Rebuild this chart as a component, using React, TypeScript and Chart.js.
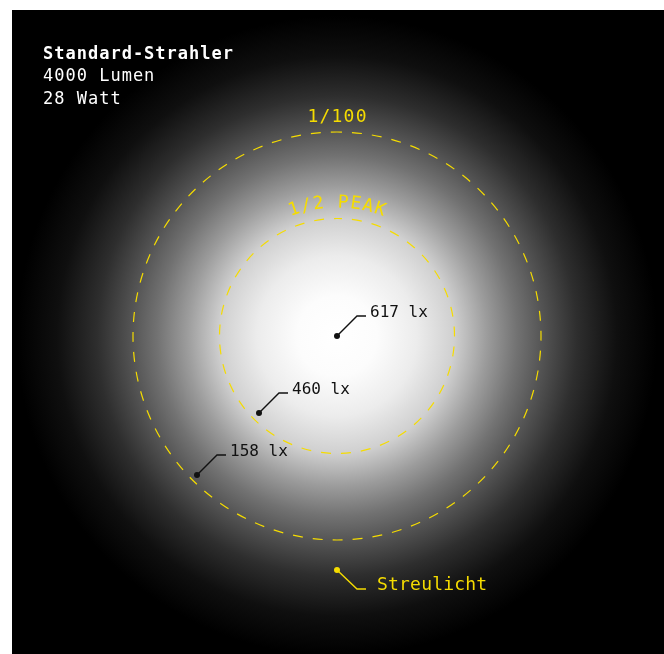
import React, { useEffect, useRef } from "react";
import { Chart, registerables } from "chart.js";

Chart.register(...registerables);

// ---- data (distances in metres from the lamp axis) ----
const headerLines = ["Standard-Strahler", "4000 Lumen", "28 Watt"];
const measureLabels = ["617 lx", "460 lx", "158 lx"];
const measureX = [0, -0.78, -1.4];
const measureY = [0, -0.77, -1.39];
const strayLabels = ["Streulicht"];
const strayX = [0];
const strayY = [-2.34];
const ringLabels = ["1/2 PEAK", "1/100"];
const ringRadii = [1.175, 2.04];
// brightness profile of the light cone: radius (m) -> grey level
const glowRadius = [0, 0.4, 0.8, 1.17, 1.5, 1.8, 2.04, 2.4, 2.8, 3.2];
const glowLevel = [255, 252, 236, 208, 156, 114, 86, 46, 15, 0];

const X_MIN = -3.25;
const X_MAX = 3.27;
const Y_MIN = -3.18;
const Y_MAX = 3.26;

const YELLOW = "#f5dc00";
const INK = "#111111";
const FONT = "'DejaVu Sans Mono', monospace";

const scenePlugin = {
  id: "scene",
  beforeDatasetsDraw(chart: any) {
    const { ctx, width, height } = chart;
    const xs = chart.scales.x;
    const ys = chart.scales.y;
    const cx = xs.getPixelForValue(0);
    const cy = ys.getPixelForValue(0);
    const unit = xs.getPixelForValue(1) - cx;
    ctx.save();
    ctx.fillStyle = "#000";
    ctx.fillRect(0, 0, width, height);
    const maxR = glowRadius[glowRadius.length - 1] * unit;
    const g = ctx.createRadialGradient(cx, cy, 0, cx, cy, maxR);
    glowRadius.forEach((r, i) => {
      const v = glowLevel[i];
      g.addColorStop((r * unit) / maxR, `rgb(${v},${v},${v})`);
    });
    ctx.fillStyle = g;
    ctx.fillRect(0, 0, width, height);

    // dashed rings
    ctx.strokeStyle = YELLOW;
    ctx.lineWidth = 1.2;
    ctx.setLineDash([10, 10]);
    ctx.lineDashOffset = 5;
    ringRadii.forEach((r) => {
      ctx.beginPath();
      ctx.arc(cx, cy, r * unit, -Math.PI / 2, Math.PI * 1.5);
      ctx.stroke();
    });
    ctx.setLineDash([]);

    // ring labels
    ctx.fillStyle = YELLOW;
    ctx.font = `18px ${FONT}`;
    // inner ring label, curved
    {
      const text = ringLabels[0];
      const R = ringRadii[0] * unit + 11;
      const sp = 1.2;
      const widths = Array.from(text).map((c) => ctx.measureText(c).width);
      const total = widths.reduce((a, b) => a + b, 0) + sp * (widths.length - 1);
      let off = 0;
      const start = -Math.PI / 2 - total / (2 * R);
      ctx.textAlign = "center";
      ctx.textBaseline = "alphabetic";
      Array.from(text).forEach((c, i) => {
        const a = start + (off + widths[i] / 2) / R;
        ctx.save();
        ctx.translate(cx + R * Math.cos(a), cy + R * Math.sin(a));
        ctx.rotate(a + Math.PI / 2);
        ctx.fillText(c, 0, 0);
        ctx.restore();
        off += widths[i] + sp;
      });
    }
    // outer ring label, straight
    {
      const text = ringLabels[1];
      (ctx as any).letterSpacing = "1.2px";
      ctx.textAlign = "left";
      const w = ctx.measureText(text).width - 1.2;
      ctx.fillText(text, cx - w / 2, cy - ringRadii[1] * unit - 10);
      (ctx as any).letterSpacing = "0px";
    }

    // header
    ctx.fillStyle = "#ffffff";
    ctx.textAlign = "left";
    (ctx as any).letterSpacing = "1px";
    headerLines.forEach((line, i) => {
      ctx.font = `${i === 0 ? "bold " : ""}17px ${FONT}`;
      ctx.fillText(line, 31, 48.5 + i * 22.5);
    });
    (ctx as any).letterSpacing = "0px";
    ctx.restore();
  },
  afterDatasetsDraw(chart: any) {
    const { ctx } = chart;
    ctx.save();
    // measurement labels
    const m = chart.getDatasetMeta(0);
    ctx.strokeStyle = INK;
    ctx.fillStyle = INK;
    ctx.lineWidth = 1.4;
    ctx.font = `16px ${FONT}`;
    ctx.textAlign = "left";
    ctx.textBaseline = "alphabetic";
    m.data.forEach((el: any, i: number) => {
      const { x, y } = el;
      ctx.beginPath();
      ctx.moveTo(x, y);
      ctx.lineTo(x + 20, y - 20);
      ctx.lineTo(x + 29, y - 20);
      ctx.stroke();
      ctx.fillText(measureLabels[i], x + 33, y - 19);
    });
    // stray light label
    const s = chart.getDatasetMeta(1);
    ctx.strokeStyle = YELLOW;
    ctx.fillStyle = YELLOW;
    ctx.font = `18px ${FONT}`;
    (ctx as any).letterSpacing = "0.2px";
    s.data.forEach((el: any, i: number) => {
      const { x, y } = el;
      ctx.beginPath();
      ctx.moveTo(x, y);
      ctx.lineTo(x + 20, y + 19);
      ctx.lineTo(x + 29, y + 19);
      ctx.stroke();
      ctx.fillText(strayLabels[i], x + 40, y + 20);
    });
    (ctx as any).letterSpacing = "0px";
    ctx.restore();
  },
};

export default function App() {
  const ref = useRef<HTMLCanvasElement | null>(null);
  useEffect(() => {
    if (!ref.current) return;
    const chart = new Chart(ref.current, {
      type: "scatter",
      data: {
        datasets: [
          {
            data: measureX.map((x, i) => ({ x, y: measureY[i] })),
            pointRadius: 3,
            pointBorderWidth: 0,
            pointBackgroundColor: INK,
            clip: false as any,
          },
          {
            data: strayX.map((x, i) => ({ x, y: strayY[i] })),
            pointRadius: 3,
            pointBorderWidth: 0,
            pointBackgroundColor: YELLOW,
            clip: false as any,
          },
        ],
      },
      options: {
        animation: false,
        responsive: true,
        maintainAspectRatio: false,
        events: [],
        layout: { padding: 0, autoPadding: false },
        plugins: { legend: { display: false }, tooltip: { enabled: false } },
        scales: {
          x: { type: "linear", display: false, min: X_MIN, max: X_MAX },
          y: { type: "linear", display: false, min: Y_MIN, max: Y_MAX },
        },
      },
      plugins: [scenePlugin],
    });
    return () => chart.destroy();
  }, []);
  return (
    <div style={{ position: "absolute", left: 12, top: 10, width: 652, height: 644 }}>
      <canvas ref={ref} />
    </div>
  );
}
